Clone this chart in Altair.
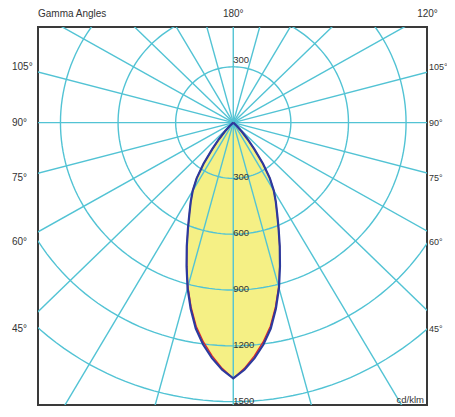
import math
import altair as alt
import pandas as pd

# ---------------- data ----------------
gamma_deg = [0, 2.5, 5, 7.5, 10, 12.5, 15, 17.5, 20, 22.5, 25, 27.5, 30,
             32.5, 35, 37.5, 40, 42.5, 45, 47.5, 50]
cd_c0 = [1375, 1330, 1271, 1203, 1124, 1025, 920, 809, 708, 617, 541, 480, 422,
         355, 270, 180, 115, 65, 28, 6, 0]
cd_c90 = [1375, 1322, 1259, 1189, 1111, 1015, 913, 805, 706, 616, 540, 480, 422,
          355, 270, 180, 115, 65, 28, 6, 0]

ring_values = [300, 600, 900, 1200, 1500]
ring_labels = ["300", "600", "900", "1200", "1500"]
spoke_step = 15
side_angles = [105, 90, 75, 60, 45]
side_labels = ["105°", "90°", "75°", "60°", "45°"]
top_angles = [180, 120]
top_labels = ["180°", "120°"]
unit_label = "cd/klm"
title_label = "Gamma Angles"

# ---------------- layout ----------------
XMIN, XMAX = -1017, 1009
YMIN, YMAX = -1518, 514
W, H = 389, 378
GRID = "#52c3d4"
FILL = "#f5f085"
BLUE = "#2c3a9e"
RED = "#e0262a"
TXT = "#333333"

xs = alt.Scale(domain=[XMIN, XMAX], nice=False, zero=False)
ys = alt.Scale(domain=[YMIN, YMAX], nice=False, zero=False)

fill_df = pd.DataFrame({
    "y": [-r * math.cos(math.radians(g)) for g, r in zip(gamma_deg, cd_c0)],
    "x": [r * math.sin(math.radians(g)) for g, r in zip(gamma_deg, cd_c0)],
})
fill_df["x2"] = -fill_df["x"]


def outline(vals):
    rows = []
    n = len(gamma_deg)
    order = 0
    for i in range(n - 1, -1, -1):
        g = -gamma_deg[i]
        r = vals[i]
        rows.append({"x": r * math.sin(math.radians(g)),
                     "y": -r * math.cos(math.radians(g)), "o": order})
        order += 1
    for i in range(1, n):
        g = gamma_deg[i]
        r = vals[i]
        rows.append({"x": r * math.sin(math.radians(g)),
                     "y": -r * math.cos(math.radians(g)), "o": order})
        order += 1
    return pd.DataFrame(rows)


red_df = outline(cd_c90)
blue_df = outline(cd_c0)

ring_rows = []
for r in ring_values:
    for a in range(0, 361, 2):
        ring_rows.append({"r": r, "a": a,
                          "x": r * math.sin(math.radians(a)),
                          "y": r * math.cos(math.radians(a))})
ring_df = pd.DataFrame(ring_rows)

spoke_rows = []
for a in range(0, 360, spoke_step):
    spoke_rows.append({"x": 0.0, "y": 0.0,
                       "x2": 4000 * math.sin(math.radians(a)),
                       "y2": 4000 * math.cos(math.radians(a))})
spoke_df = pd.DataFrame(spoke_rows)

X = alt.X("x:Q", scale=xs, axis=None)
Y = alt.Y("y:Q", scale=ys, axis=None)

fill = alt.Chart(fill_df).mark_area(orient="horizontal", color=FILL, opacity=1).encode(
    y=Y, x=X, x2="x2:Q")

rings = alt.Chart(ring_df).mark_line(clip=True, color=GRID, strokeWidth=1.4).encode(
    x=X, y=Y, detail="r:N", order="a:Q")

spokes = alt.Chart(spoke_df).mark_rule(clip=True, color=GRID, strokeWidth=1.4).encode(
    x=X, y=Y, x2="x2:Q", y2="y2:Q")

red = alt.Chart(red_df).mark_line(color=RED, strokeWidth=1.3).encode(
    x=X, y=Y, order="o:Q")
blue = alt.Chart(blue_df).mark_line(color=BLUE, strokeWidth=2.2).encode(
    x=X, y=Y, order="o:Q")

rl_df = pd.DataFrame({"x": [0] * len(ring_values), "y": [-v for v in ring_values],
                      "t": ring_labels})
ring_text = alt.Chart(rl_df).mark_text(align="left", baseline="middle", fontSize=9.5,
                                       color=TXT, dy=-1).encode(x=X, y=Y, text="t:N")
up_df = pd.DataFrame({"x": [0], "y": [ring_values[0]], "t": [ring_labels[0]]})
up_text = alt.Chart(up_df).mark_text(align="left", baseline="middle", fontSize=9.5,
                                     color=TXT, dy=-7).encode(x=X, y=Y, text="t:N")

L = 1108
side_y = [-L / math.tan(math.radians(a)) if a != 90 else 0 for a in side_angles]
left_df = pd.DataFrame({"x": [XMIN] * 5, "y": side_y, "t": side_labels})
right_df = pd.DataFrame({"x": [XMAX] * 5, "y": side_y, "t": side_labels})
left_text = alt.Chart(left_df).mark_text(align="left", baseline="middle", fontSize=10,
                                         color=TXT, dx=-26).encode(x=X, y=Y, text="t:N")
right_text = alt.Chart(right_df).mark_text(align="left", baseline="middle", fontSize=9,
                                           color=TXT, dx=2).encode(x=X, y=Y, text="t:N")

YT = 584
top_df = pd.DataFrame({"x": [YT * 1.0 * math.tan(math.radians(180 - a)) for a in top_angles],
                       "y": [YT] * len(top_angles), "t": top_labels})
top_text = alt.Chart(top_df).mark_text(align="center", baseline="middle", fontSize=10,
                                       color=TXT).encode(x=X, y=Y, text="t:N")
title_df = pd.DataFrame({"x": [XMIN], "y": [YT], "t": [title_label]})
title_text = alt.Chart(title_df).mark_text(align="left", baseline="middle", fontSize=10,
                                           color=TXT).encode(x=X, y=Y, text="t:N")
unit_df = pd.DataFrame({"x": [XMAX], "y": [-1491], "t": [unit_label]})
unit_text = alt.Chart(unit_df).mark_text(align="right", baseline="middle", fontSize=9.5,
                                         color=TXT, dx=-3).encode(x=X, y=Y, text="t:N")

chart = alt.layer(fill, rings, spokes, red, blue, ring_text, up_text,
                  left_text, right_text, top_text, title_text, unit_text).properties(
    width=W, height=H,
    autosize=alt.AutoSizeParams(type="none"),
    padding={"left": 30, "top": 19, "right": 20, "bottom": 4},
).configure_view(stroke="#3a3a3a", strokeWidth=2).configure_text(font="Liberation Sans")

chart.save("out.html", embed_options={"renderer": "svg", "actions": False})
